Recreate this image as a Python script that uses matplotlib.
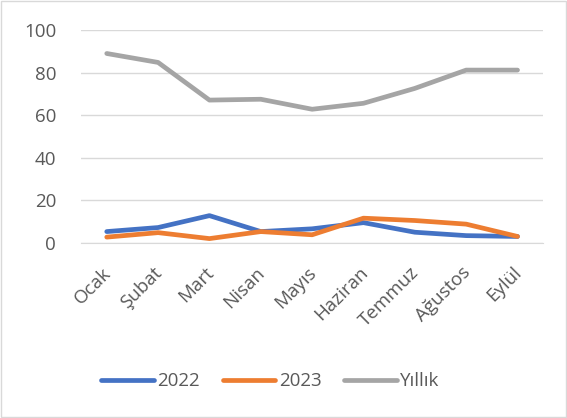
import numpy as np
import matplotlib.pyplot as plt
from matplotlib.patches import Rectangle
from matplotlib.transforms import ScaledTranslation

aylar = ["Ocak", "Şubat", "Mart", "Nisan", "Mayıs", "Haziran", "Temmuz", "Ağustos", "Eylül"]
y2022 = [5.3, 7.2, 12.8, 5.3, 6.6, 9.5, 5.0, 3.4, 3.0]
y2023 = [2.7, 4.8, 2.0, 5.3, 3.8, 11.6, 10.5, 8.8, 3.0]
yillik = [89.0, 84.8, 67.1, 67.5, 62.8, 65.6, 72.6, 81.2, 81.2]

plt.rcParams['font.family'] = ['Open Sans', 'DejaVu Sans']
yazi = "#595959"

fig = plt.figure(figsize=(5.67, 4.18), dpi=100)
ax = fig.add_axes([0.143, 0.419, 0.815, 0.509])
x = np.arange(len(aylar))
ax.plot(x, y2022, color="#4472C4", lw=3.4, label="2022", solid_capstyle="round")
ax.plot(x, y2023, color="#ED7D31", lw=3.4, label="2023", solid_capstyle="round")
ax.plot(x, yillik, color="#A5A5A5", lw=3.4, label="Yıllık", solid_capstyle="round")

ax.set_xlim(-0.5, len(aylar) - 0.5)
ax.set_ylim(0, 100)
ax.set_yticks(range(0, 101, 20))
ax.grid(axis="y", color="#D9D9D9", lw=1)
ax.set_axisbelow(True)
for s in ["top", "right", "left"]:
    ax.spines[s].set_visible(False)
ax.spines["bottom"].set_color("#D9D9D9")
ax.tick_params(length=0, labelsize=13.5, labelcolor=yazi)
ax.tick_params(axis="y", pad=18)
ax.tick_params(axis="x", pad=15)
ax.set_xticks(x)
ax.set_xticklabels(aylar, rotation=45, ha="right", rotation_mode="anchor")
kay = ScaledTranslation(-5 / 100, 0, fig.dpi_scale_trans)
for t in ax.get_xticklabels():
    t.set_transform(t.get_transform() + kay)

ax.legend(loc="center", bbox_to_anchor=(0.41, -0.65), ncol=3, frameon=False,
          fontsize=13.5, labelcolor=yazi, handlelength=2.8, handletextpad=0.2,
          columnspacing=1.2)

fig.patches.append(Rectangle((0.002, 0.002), 0.996, 0.996, transform=fig.transFigure,
                             fill=False, edgecolor="#D9D9D9", lw=1))
fig.savefig("out.png", dpi=100)
